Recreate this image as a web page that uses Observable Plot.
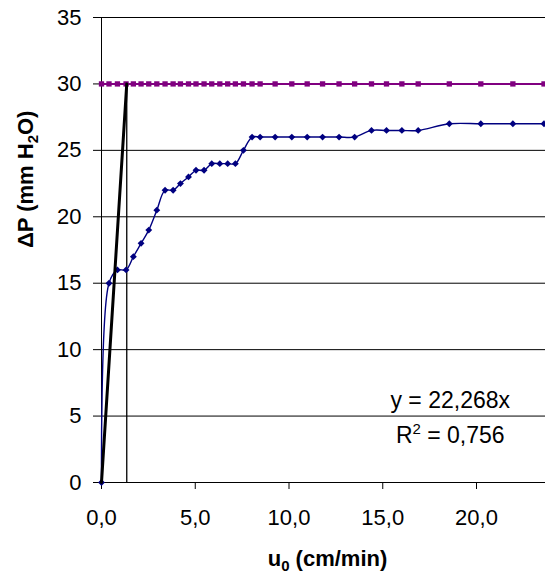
<!DOCTYPE html>
<html><head><meta charset="utf-8">
<script src="https://cdn.jsdelivr.net/npm/d3@7"></script>
<script src="https://cdn.jsdelivr.net/npm/@observablehq/plot@0.6"></script>
<style>body{margin:0;background:#fff}</style>
</head><body><div id="chart"></div>
<script>
// Superficial velocity u0 (cm/min)
const u0 = [0, 0.40, 0.85, 1.31, 1.70, 2.11, 2.52, 2.95, 3.39, 3.82, 4.21, 4.64, 5.04, 5.47, 5.88, 6.31, 6.73, 7.14,
  7.57, 8.03, 8.46, 9.26, 10.15, 10.97, 11.79, 12.67, 13.50, 14.40, 15.20, 16.02, 16.89, 18.55, 20.23, 21.94, 23.60];
// Measured pressure drop (mm H2O)
const dP = [0, 15, 16, 16, 17, 18, 19, 20.5, 22, 22, 22.5, 23, 23.5, 23.5, 24, 24, 24, 24,
  25, 26, 26, 26, 26, 26, 26, 26, 26, 26.5, 26.5, 26.5, 26.5, 27, 27, 27, 27];
// Second series (upper plateau)
const dPmax = [30, 30, 30, 30, 30, 30, 30, 30, 30, 30, 30, 30, 30, 30, 30, 30, 30, 30,
  30, 30, 30, 30, 30, 30, 30, 30, 30, 30, 30, 30, 30, 30, 30, 30, 30];
// Linear trendline y = 22,268x up to the plateau
const trendX = [0, 1.347];
const trendY = [0, 30];
const vLineX = [1.347];
const xTicks = [0, 5, 10, 15, 20];
const yTicks = [0, 5, 10, 15, 20, 25, 30, 35];
const eqLabels = ["y = 22,268x", "R² = 0,756"];
const yLabel = "ΔP (mm H₂O)";
const xLabel = "u₀ (cm/min)";

const fmtX = d => d.toFixed(1).replace(".", ",");
const font = "Liberation Sans, Arial, sans-serif";

const chart = Plot.plot({
  width: 545, height: 579,
  marginLeft: 101, marginRight: 0, marginTop: 17, marginBottom: 97,
  style: {fontFamily: font, fontSize: "22px", color: "#000", background: "#fff"},
  x: {domain: [0, 23.68], label: null},
  y: {domain: [0, 35], label: null},
  marks: [
    Plot.ruleY(yTicks.filter(d => d > 0), {stroke: "#000", strokeWidth: 1}),
    Plot.axisY({ticks: yTicks, tickSize: 8, tickPadding: 12, label: null, fontSize: 22}),
    Plot.axisX({ticks: xTicks, tickSize: 7, tickPadding: 20, tickFormat: fmtX, label: null, fontSize: 22}),
    Plot.ruleX([0], {y1: 0, y2: 35, stroke: "#000"}),
    Plot.ruleY([0], {stroke: "#000"}),
    Plot.ruleX(vLineX, {y1: 0, y2: 30, stroke: "#000", strokeWidth: 1.3}),
    Plot.line(u0, {x: u0, y: dPmax, stroke: "#800080", strokeWidth: 2}),
    Plot.dot(u0, {x: u0, y: dPmax, symbol: "square", r: 3, fill: "#800080", stroke: "none"}),
    Plot.line(u0, {x: u0, y: dP, curve: "catmull-rom", stroke: "#000080", strokeWidth: 1.4}),
    Plot.dot(u0, {x: u0, y: dP, symbol: "diamond2", r: 3.1, fill: "#000080", stroke: "none"}),
    Plot.line(trendX, {x: trendX, y: trendY, stroke: "#000", strokeWidth: 3}),
    Plot.text([eqLabels[0]], {x: 18.6, y: 6.2, text: d => d, fontSize: 23, fill: "#000"}),
    Plot.text([eqLabels[1]], {x: 18.6, y: 3.5, text: d => d, fontSize: 23, fill: "#000"}),
    Plot.text([yLabel], {frameAnchor: "left", dx: -76, dy: -2, rotate: -90, text: d => d, fontWeight: "bold", fontSize: 22, fill: "#000"}),
    Plot.text([xLabel], {frameAnchor: "bottom", dx: 4, dy: 83, text: d => d, fontWeight: "bold", fontSize: 22, fill: "#000"})
  ]
});

// Render sub/superscripts as real smaller raised/lowered characters
function rich(node, parts) {
  const t = d3.select(node);
  t.text(null);
  let shift = 0;
  for (const [s, kind] of parts) {
    const target = kind === "sup" ? -9 : kind === "sub" ? 5 : 0;
    const ts = t.append("tspan").text(s).attr("dy", target - shift);
    if (kind) ts.attr("font-size", 15);
    shift = target;
  }
}
d3.select(chart).selectAll("text").each(function() {
  const s = this.textContent;
  if (s === eqLabels[1]) rich(this, [["R", null], ["2", "sup"], [" = 0,756", null]]);
  else if (s === yLabel) rich(this, [["ΔP (mm H", null], ["2", "sub"], ["O)", null]]);
  else if (s === xLabel) rich(this, [["u", null], ["0", "sub"], [" (cm/min)", null]]);
});
document.getElementById("chart").appendChild(chart);
</script>
</body></html>
